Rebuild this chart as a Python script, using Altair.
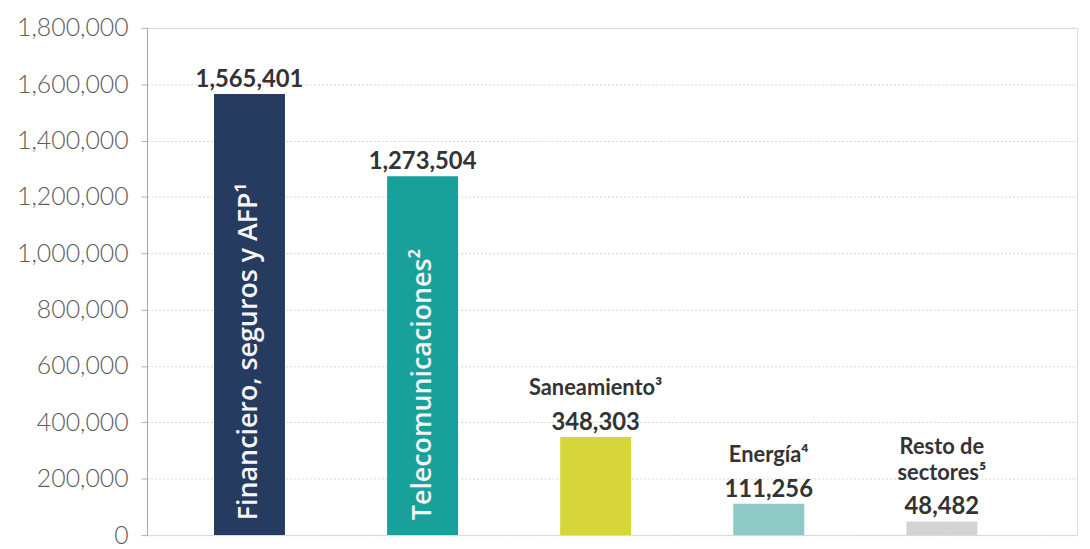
import altair as alt
import pandas as pd

keys = ["fin", "tel", "san", "ene", "res"]
inside_labels = ["Financiero, seguros y AFP¹", "Telecomunicaciones²", "", "", ""]
top_line_a = ["", "", "", "", "Resto de"]
top_line_b = ["", "", "Saneamiento³", "Energía⁴", "sectores⁵"]
values = [1565401, 1273504, 348303, 111256, 48482]
colors = ["#263b60", "#17a19a", "#d6d63c", "#8fcac6", "#d3d3d3"]
y_ticks = [0, 200000, 400000, 600000, 800000, 1000000, 1200000, 1400000, 1600000, 1800000]

df = pd.DataFrame({
    "key": keys,
    "inside": inside_labels,
    "top_a": top_line_a,
    "top_b": top_line_b,
    "value": values,
    "value_label": [f"{v:,}" for v in values],
})

W, H = 937, 511

x = alt.X("key:N", sort=keys, axis=None,
          scale=alt.Scale(paddingInner=0.59, paddingOuter=0.4817, align=0.402))
y = alt.Y("value:Q",
          scale=alt.Scale(domain=[0, 1800000], nice=False),
          axis=alt.Axis(values=y_ticks, format=",d", title=None,
                        labelFont="Lato", labelFontWeight=300, labelFontSize=25,
                        labelColor="#5c5c5c", labelPadding=13,
                        tickSize=6, tickColor="#b0b0b0", domainColor="#a8a8a8",
                        grid=True, gridColor="#d4d4d4", gridDash=[2, 2],
                        gridWidth=1))

bars = alt.Chart(df).mark_bar().encode(
    x=x, y=y,
    color=alt.Color("key:N", scale=alt.Scale(domain=keys, range=colors), legend=None),
)

value_text = alt.Chart(df).mark_text(
    font="Lato", fontWeight="bold", fontSize=24, color="#333333",
    baseline="alphabetic", dy=-7,
).encode(x=x, y=alt.Y("value:Q"), text="value_label:N")

top_b_text = alt.Chart(df).transform_filter("datum.top_b != ''").mark_text(
    font="Lato", fontWeight="bold", fontSize=22, color="#333333",
    baseline="alphabetic", dy=-42,
).encode(x=x, y=alt.Y("value:Q"), text="top_b:N")

top_a_text = alt.Chart(df).transform_filter("datum.top_a != ''").mark_text(
    font="Lato", fontWeight="bold", fontSize=22, color="#333333",
    baseline="alphabetic", dy=-68,
).encode(x=x, y=alt.Y("value:Q"), text="top_a:N")

inside_text = alt.Chart(df).transform_filter("datum.inside != ''").transform_calculate(
    zero="0"
).mark_text(
    font="Open Sans", fontWeight=600, fontSize=27, color="#f4f4f4",
    angle=270, align="left", baseline="middle", dx=15,
).encode(x=x, y=alt.Y("zero:Q"), text="inside:N")

chart = alt.layer(bars, value_text, top_b_text, top_a_text, inside_text).properties(
    width=W, height=H,
    autosize=alt.AutoSizeParams(type="none"),
    padding={"left": 140, "top": 18, "right": 5, "bottom": 12},
).configure_view(stroke=None).configure(background="#ffffff")

chart.save("out.html", embed_options={"renderer": "svg", "actions": False})
